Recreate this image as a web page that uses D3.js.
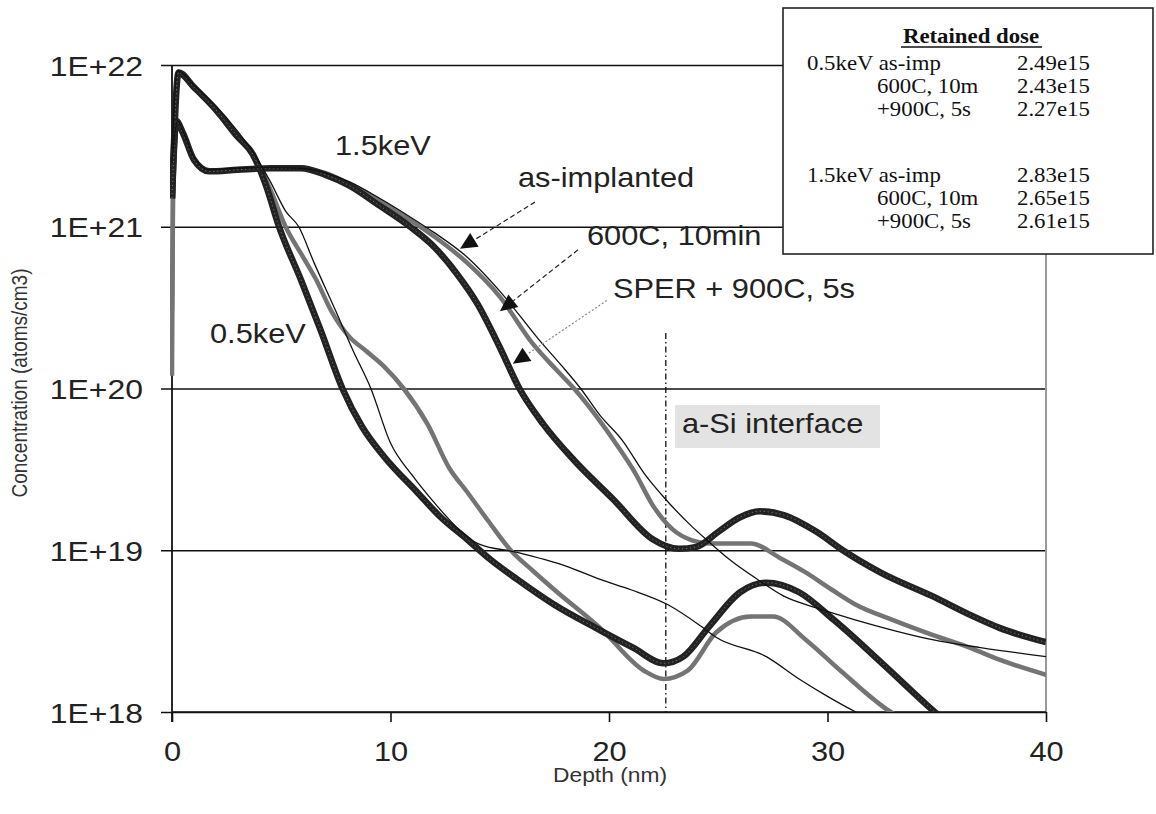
<!DOCTYPE html>
<html><head><meta charset="utf-8">
<script src="https://cdn.jsdelivr.net/npm/d3@7"></script>
<style>body{margin:0;background:#fff}svg{display:block}</style>
</head><body><svg id="c" width="1156" height="814"></svg>
<script>
// ---------- data (depth nm, concentration atoms/cm3) ----------
const xTicks = [0, 10, 20, 30, 40];
const yTicks = [1e18, 1e19, 1e20, 1e21, 1e22];

const b05AsImp = [[0,3e21],[0.25,9.2e21],[1,7.5e21],[2,5.6e21],[3,3.9e21],[3.7,2.9e21],[4.5,1.9e21],[5.2,1.25e21],[5.8,1e21],[6.5,6e20],[7.5,3e20],[8.3,1.7e20],[9.1,1e20],[10,4.6e19],[11,2.9e19],[12.1,1.9e19],[13,1.4e19],[14,1.1e19],[15.8,9.7e18],[18,8e18],[19.6,6.6e18],[21,5.7e18],[22.7,4.6e18],[24.2,3.4e18],[24.9,2.9e18],[27.2,2.2e18],[28.7,1.6e18],[30,1.25e18],[31.3,1.0e18],[32,0.9e18]];
const b05Anneal600 = [[0,1.2e20],[0.05,2e21],[0.3,8.8e21],[1,7.2e21],[2,5.3e21],[3,3.6e21],[3.7,2.8e21],[4.5,1.7e21],[5.2,1e21],[6,6.5e20],[6.6,4.7e20],[7.3,3e20],[8.1,2.1e20],[8.9,1.7e20],[9.7,1.37e20],[10.6,1e20],[11.7,6e19],[12.7,3.2e19],[13.5,2.3e19],[14.5,1.5e19],[15.5,1.0e19],[16.5,7.5e18],[17.5,5.7e18],[19.6,3.3e18],[21.6,1.8e18],[22.5,1.6e18],[23.6,1.8e18],[24.9,3.1e18],[26.5,3.9e18],[27.5,3.9e18],[29,2.8e18],[30.6,1.8e18],[32.9,1e18],[33.5,0.9e18]];
const b05Sper900 = [[0,1.5e21],[0.3,9e21],[1,7.3e21],[2,5.3e21],[3,3.6e21],[3.7,2.8e21],[4.3,1.8e21],[4.9,1e21],[5.9,4.7e20],[6.8,2.3e20],[7.8,1e20],[8.7,5.8e19],[9.7,3.8e19],[11.2,2.3e19],[12.3,1.6e19],[13.5,1.17e19],[14.6,8.7e18],[15.8,6.6e18],[17.5,4.6e18],[19.6,3.2e18],[21.1,2.5e18],[22.5,2.0e18],[23.4,2.2e18],[24.6,3.4e18],[26,5.5e18],[27.2,6.3e18],[28.7,5.5e18],[30.3,3.7e18],[32.5,2e18],[34.8,1.03e18],[35.5,0.85e18]];

const b15AsImp = [[0,2.5e21],[0.25,4.5e21],[0.5,3.9e21],[1,2.7e21],[1.7,2.25e21],[3,2.3e21],[4.5,2.32e21],[5.9,2.3e21],[7,2.15e21],[8.1,1.9e21],[9.5,1.5e21],[10.9,1.15e21],[12,9.2e20],[13.5,6.5e20],[15,4e20],[16.8,2e20],[17.8,1.4e20],[18.7,1e20],[19.6,6.8e19],[20.6,4.8e19],[21.6,3e19],[22.6,2.06e19],[23.8,1.4e19],[24.5,1.15e19],[25.5,8.8e18],[26.8,6.6e18],[28,5.2e18],[29.5,4.4e18],[31.3,3.7e18],[33,3.2e18],[34.8,2.8e18],[37,2.5e18],[40,2.2e18]];
const b15Anneal600 = [[0,3e20],[0.05,2e21],[0.25,4.4e21],[0.5,3.8e21],[1,2.6e21],[1.7,2.2e21],[3,2.25e21],[4.5,2.3e21],[5.9,2.3e21],[7,2.15e21],[8.1,1.85e21],[9.5,1.45e21],[10.9,1.1e21],[12,8.7e20],[13.5,6e20],[15,3.7e20],[16.5,1.9e20],[17.6,1.3e20],[18.4,1e20],[19.4,6.8e19],[20.4,4.4e19],[21.2,3e19],[22,1.9e19],[22.9,1.35e19],[23.8,1.15e19],[24.6,1.1e19],[26.5,1.1e19],[27.8,9e18],[29,7.3e18],[30.2,5.7e18],[31.3,4.6e18],[33,3.7e18],[34.8,3e18],[36.5,2.5e18],[37.9,2.1e18],[40,1.7e18]];
const b15Sper900 = [[0,1.5e21],[0.2,4.5e21],[0.5,3.8e21],[1,2.6e21],[1.7,2.2e21],[3,2.25e21],[4.5,2.3e21],[5.9,2.3e21],[7,2.1e21],[8.1,1.8e21],[9.5,1.35e21],[10.9,1e21],[12,7.5e20],[13,5.2e20],[14,3.3e20],[15,1.8e20],[15.9,1e20],[17,6e19],[18.4,3.6e19],[20.2,2.06e19],[22,1.17e19],[23.2,1.02e19],[24,1.05e19],[25,1.3e19],[26,1.6e19],[26.9,1.74e19],[28,1.65e19],[29.5,1.3e19],[30.7,1e19],[32.5,7.2e18],[34.8,5.2e18],[36.5,4e18],[37.9,3.3e18],[40,2.7e18]];

const doseLabels = ["0.5keV as-imp", "600C, 10m", "+900C, 5s", "1.5keV as-imp", "600C, 10m", "+900C, 5s"];
const doseValues = ["2.49e15", "2.43e15", "2.27e15", "2.83e15", "2.65e15", "2.61e15"];
const interfaceDepth = 22.6;

// ---------- setup ----------
const svg = d3.select('#c');
const M = {l:172, r:1046, t:65, b:712};
const x = d3.scaleLinear().domain([0,40]).range([M.l, M.r]);
const y = d3.scaleLog().domain([1e18,1e22]).range([M.b, M.t]);
const SX = 1.14;
const SANS = "'Liberation Sans', Arial, sans-serif";
const SERIF = "'Liberation Serif', 'Times New Roman', serif";

function txt(g, px, py, s, size, o={}) {
  const gg = g.append('g').attr('transform', `translate(${px},${py}) scale(${o.sx||SX},1)`);
  gg.append('text').attr('text-anchor', o.anchor||'start')
    .attr('font-family', o.family||SANS).attr('font-size', size)
    .attr('font-weight', o.weight||'normal').attr('fill', o.fill||'#222').text(s);
  return gg;
}

// gridlines + y axis
const yAxis = d3.axisLeft(y).tickValues(yTicks).tickSize(11).tickPadding(0)
  .tickFormat(d => '1E+' + Math.round(Math.log10(d)));
const gy = svg.append('g').attr('transform', `translate(${M.l},0)`).call(yAxis);
gy.select('.domain').remove();
gy.selectAll('.tick line').attr('x1', -11).attr('x2', M.r - M.l).attr('stroke', '#111').attr('stroke-width', 1.6);
gy.selectAll('.tick text').attr('x', 0).attr('dy', '0.36em')
  .attr('transform', `translate(-29,0) scale(${SX},1)`)
  .attr('font-family', SANS).attr('font-size', 28).attr('fill', '#222');

// right border
svg.append('line').attr('x1', M.r).attr('x2', M.r).attr('y1', M.t).attr('y2', M.b)
  .attr('stroke', '#999').attr('stroke-width', 2);

// x axis
const xAxis = d3.axisBottom(x).tickValues(xTicks).tickSize(10).tickPadding(0).tickFormat(d3.format('d'));
const gx = svg.append('g').attr('transform', `translate(0,${M.b})`).call(xAxis);
gx.select('.domain').attr('d', `M${M.l},0H${M.r}`).attr('stroke', '#111').attr('stroke-width', 1.6);
gx.selectAll('.tick line').attr('stroke', '#111').attr('stroke-width', 1.6);
gx.selectAll('.tick text').attr('y', 0).attr('dy', 0)
  .attr('transform', `translate(0,49) scale(${SX},1)`)
  .attr('font-family', SANS).attr('font-size', 27).attr('fill', '#222');

// left axis line
svg.append('line').attr('x1', M.l).attr('x2', M.l).attr('y1', M.t).attr('y2', M.b + 10)
  .attr('stroke', '#111').attr('stroke-width', 1.8);

// axis titles
svg.append('text').attr('transform', `translate(27,383) rotate(-90) scale(1,${SX})`)
  .attr('text-anchor', 'middle').attr('font-family', SANS).attr('font-size', 19)
  .attr('fill', '#333').text('Concentration (atoms/cm3)');
txt(svg, 610, 782, 'Depth (nm)', 20, {anchor:'middle', fill:'#333'});

// interface line
svg.append('line').attr('x1', x(interfaceDepth)).attr('x2', x(interfaceDepth))
  .attr('y1', y(2.2e20)).attr('y2', M.b)
  .attr('stroke', '#111').attr('stroke-width', 1.3).attr('stroke-dasharray', '6,3,1.5,3');

// curves
svg.append('clipPath').attr('id', 'clip').append('rect')
  .attr('x', M.l - 2).attr('y', M.t - 5).attr('width', M.r - M.l + 2).attr('height', M.b - M.t + 5);
const line = d3.line().x(d => x(d[0])).y(d => y(d[1])).curve(d3.curveMonotoneX);
const plot = svg.append('g').attr('clip-path', 'url(#clip)');
const series = [
  {d: b05Anneal600, kind: 'gray'},
  {d: b15Anneal600, kind: 'gray'},
  {d: b05Sper900, kind: 'thick'},
  {d: b15Sper900, kind: 'thick'},
  {d: b05AsImp, kind: 'thin'},
  {d: b15AsImp, kind: 'thin'}
];
series.forEach(s => {
  const p = line(s.d);
  if (s.kind === 'gray') {
    plot.append('path').attr('d', p).attr('fill', 'none').attr('stroke', '#747474').attr('stroke-width', 4.5);
  } else if (s.kind === 'thick') {
    plot.append('path').attr('d', p).attr('fill', 'none').attr('stroke', '#222').attr('stroke-width', 6.5);
    plot.append('path').attr('d', p).attr('fill', 'none').attr('stroke', '#9a9a9a').attr('stroke-width', 1)
      .attr('stroke-dasharray', '1.2,2.8').attr('opacity', 0.7);
  } else {
    plot.append('path').attr('d', p).attr('fill', 'none').attr('stroke', '#111').attr('stroke-width', 1.3);
  }
});

// annotation arrows (data coordinates)
const arrows = [
  {from:[16.61,1.42e21], to:[13.18,7.3e20], dash:'5,3', col:'#222'},
  {from:[18.58,7.2e20], to:[15.01,3.0e20], dash:'5,3', col:'#222'},
  {from:[19.9,3.5e20], to:[15.6,1.42e20], dash:'2,2', col:'#888'}
];
arrows.forEach(a => {
  const x1 = x(a.from[0]), y1 = y(a.from[1]), x2 = x(a.to[0]), y2 = y(a.to[1]);
  const ang = Math.atan2(y2 - y1, x2 - x1), L = 17, W = 8;
  const bx = x2 - L*Math.cos(ang), by = y2 - L*Math.sin(ang);
  svg.append('line').attr('x1', x1).attr('y1', y1).attr('x2', bx).attr('y2', by)
    .attr('stroke', a.col).attr('stroke-width', 1.2).attr('stroke-dasharray', a.dash);
  const px = -Math.sin(ang), py = Math.cos(ang);
  svg.append('path').attr('d', `M${x2},${y2}L${bx+px*W},${by+py*W}L${bx-px*W},${by-py*W}Z`).attr('fill', '#111');
});

// labels
txt(svg, 335, 155, '1.5keV', 27);
txt(svg, 210, 343, '0.5keV', 27);
txt(svg, 518, 187, 'as-implanted', 27);
txt(svg, 587, 245, '600C, 10min', 27);
txt(svg, 613, 298, 'SPER + 900C, 5s', 27);
svg.append('rect').attr('x', 675).attr('y', 405).attr('width', 205).attr('height', 43).attr('fill', '#e3e3e3');
txt(svg, 682, 433, 'a-Si interface', 27);

// dose table box
svg.append('rect').attr('x', 783).attr('y', 8).attr('width', 370).attr('height', 246)
  .attr('fill', '#fff').attr('stroke', '#222').attr('stroke-width', 1.6);
txt(svg, 971, 43, 'Retained dose', 20, {anchor:'middle', family:SERIF, weight:'bold', fill:'#111'});
svg.append('line').attr('x1', 901).attr('x2', 1042).attr('y1', 47).attr('y2', 47).attr('stroke', '#111').attr('stroke-width', 1.3);
const rowY = [70, 93, 116, 182, 205, 228];
doseLabels.forEach((l, i) => {
  const first = l.indexOf('keV') > 0;
  txt(svg, first ? 807 : 877, rowY[i], l, 20, {family:SERIF, fill:'#111'});
  txt(svg, 1017, rowY[i], doseValues[i], 20, {family:SERIF, fill:'#111'});
});
</script>
</body></html>
